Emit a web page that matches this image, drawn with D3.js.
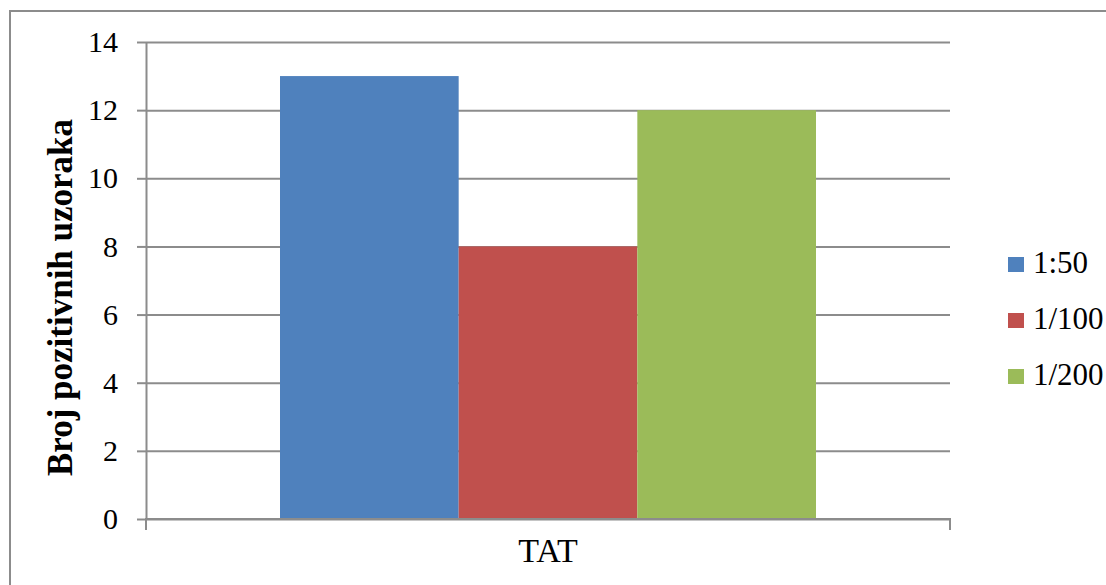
<!DOCTYPE html>
<html>
<head>
<meta charset="utf-8">
<script src="https://cdn.jsdelivr.net/npm/d3@7"></script>
<style>
  html, body { margin: 0; padding: 0; background: #fff; }
  svg { display: block; }
  text { font-family: "Liberation Serif", "Times New Roman", serif; fill: #000; }
</style>
</head>
<body>
<svg id="chart" width="1106" height="585"></svg>
<script>
const categories = ["TAT"];
const seriesNames = ["1:50", "1/100", "1/200"];
const seriesValues = [[13], [8], [12]];
const seriesColors = ["#4F81BD", "#C0504D", "#9BBB59"];
const yTicks = [0, 2, 4, 6, 8, 10, 12, 14];
const yLabel = "Broj pozitivnih uzoraka";

const FONT = '"Liberation Serif", "Times New Roman", serif';
const svg = d3.select("#chart");
const plot = { left: 146, right: 950, top: 42, bottom: 519 };
const gridColor = "#8c8c8c";

// outer frame
svg.append("rect")
  .attr("x", 10).attr("y", 11)
  .attr("width", 1300).attr("height", 800)
  .attr("fill", "#fff").attr("stroke", "#8c8c8c").attr("stroke-width", 2);

const x = d3.scaleBand().domain(categories).range([plot.left, plot.right]).paddingInner(0).paddingOuter(0);
const y = d3.scaleLinear().domain([0, 14]).range([plot.bottom, plot.top]);
const bw = x.bandwidth();
const xs = d3.scaleBand().domain(seriesNames).paddingInner(0).paddingOuter(0);

// gridlines
const grid = svg.append("g").attr("transform", `translate(${plot.left},0)`)
  .call(d3.axisLeft(y).tickValues(yTicks).tickSize(-(plot.right - plot.left)).tickFormat(""));
grid.select(".domain").remove();
grid.selectAll(".tick line").attr("stroke", gridColor).attr("stroke-width", 2);

// bars
categories.forEach((c, ci) => {
  const x0 = x(c);
  xs.range([x0 + bw / 6, x0 + bw * 5 / 6]);
  seriesNames.forEach((s, si) => {
    const v = seriesValues[si][ci];
    svg.append("rect")
      .attr("x", xs(s)).attr("y", y(v))
      .attr("width", xs.bandwidth()).attr("height", y(0) - y(v))
      .attr("fill", seriesColors[si]);
  });
});

// y axis
const yAxis = svg.append("g").attr("transform", `translate(${plot.left},0)`)
  .call(d3.axisLeft(y).tickValues(yTicks).tickSize(9).tickPadding(19).tickSizeOuter(0));
yAxis.attr("font-family", FONT);
yAxis.select(".domain").attr("stroke", gridColor).attr("stroke-width", 2);
yAxis.selectAll(".tick line").attr("stroke", gridColor).attr("stroke-width", 2);
yAxis.selectAll(".tick text").attr("font-size", 30).attr("fill", "#000");

// x axis
const xAxis = svg.append("g").attr("transform", `translate(0,${plot.bottom})`)
  .call(d3.axisBottom(x).tickSize(0).tickSizeOuter(11).tickPadding(20));
xAxis.attr("font-family", FONT);
xAxis.select(".domain").attr("stroke", gridColor).attr("stroke-width", 2).attr("fill", "none")
  .attr("d", `M${plot.left},11V0H${plot.right}V11`);
xAxis.selectAll(".tick text").attr("font-size", 34).attr("fill", "#000")
  .attr("dy", "0.69em");

// y label
svg.append("text")
  .attr("transform", `translate(72,${(plot.top + plot.bottom) / 2 + 17}) rotate(-90)`)
  .attr("text-anchor", "middle")
  .attr("font-family", FONT)
  .attr("font-size", 35).attr("font-weight", "bold")
  .text(yLabel);

// legend
const legend = svg.append("g").attr("transform", "translate(1008,257)");
seriesNames.forEach((s, i) => {
  const g = legend.append("g").attr("transform", `translate(0,${i * 56})`);
  g.append("rect").attr("width", 16).attr("height", 15).attr("fill", seriesColors[i]);
  g.append("text").attr("x", 25).attr("y", 16).attr("font-family", FONT).attr("font-size", 31).text(s);
});
</script>
</body>
</html>
